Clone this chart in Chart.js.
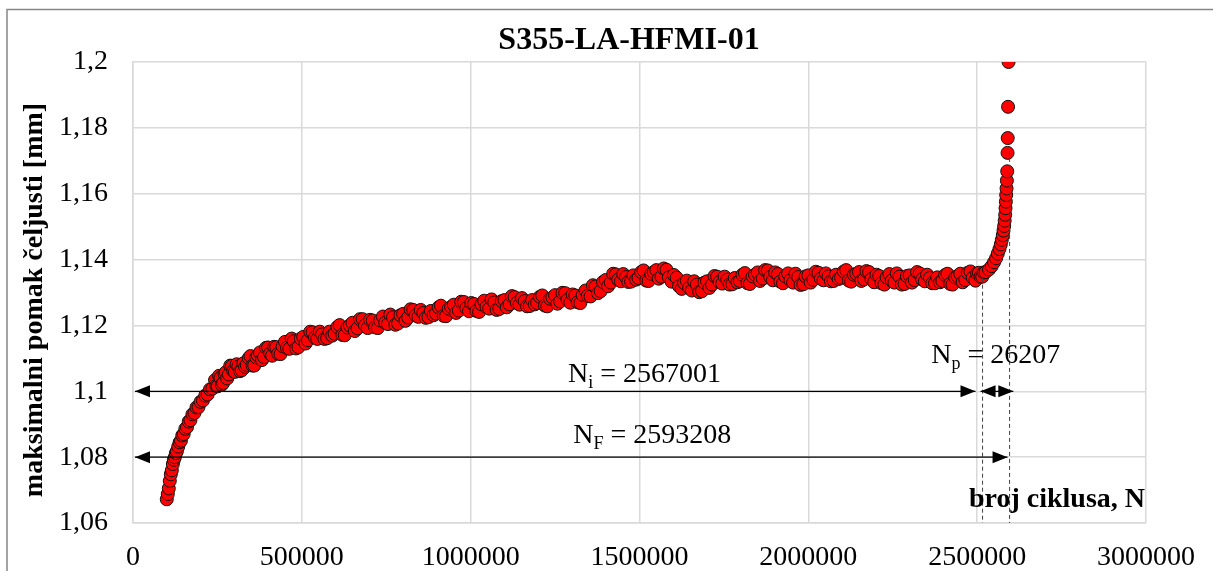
<!DOCTYPE html>
<html>
<head>
<meta charset="utf-8">
<script src="https://cdn.jsdelivr.net/npm/chart.js@4.4.1/dist/chart.umd.min.js"></script>
<style>
  html, body { margin: 0; padding: 0; background: #fff; }
  #wrap { width: 1213px; height: 571px; }
</style>
</head>
<body>
<div id="wrap"><canvas id="chart" width="1213" height="571"></canvas></div>
<script>
// broj ciklusa (u tisucama)
const cyclesK = [
  100,103,106,109,112,115,118,121,124,127,
  130,134,138,142,146,150,155,160,165,170,
  176,182,188,194,200,207,214,221,228,235,
  243,251,259,267,275,284,293,302,312,322,
  332,343,354,365,376,388,400,412,424,437,
  450,463,476,490,504,518,532,546,560,575,
  590,605,620,635,650,665,680,695,710,725,
  740,755,770,785,800,815,830,845,860,875,
  890,905,920,935,950,965,980,995,1010,1025,
  1040,1055,1070,1085,1100,1115,1130,1145,1160,1175,
  1190,1205,1220,1235,1250,1265,1280,1295,1310,1325,
  1340,1355,1370,1385,1400,1415,1430,1445,1460,1475,
  1490,1505,1520,1535,1550,1565,1580,1595,1610,1625,
  1640,1655,1670,1685,1700,1715,1730,1745,1760,1775,
  1790,1805,1820,1835,1850,1865,1880,1895,1910,1925,
  1940,1955,1970,1985,2000,2015,2030,2045,2060,2075,
  2090,2105,2120,2135,2150,2165,2180,2195,2210,2225,
  2240,2255,2270,2285,2300,2315,2330,2345,2360,2375,
  2390,2405,2420,2435,2450,2465,2480,2495,2505,2515,
  2525,2535,2543,2550,2556,2561,2566,2570,2573,2576,
  2578,2580,2581.5,2583,2584,2585,2586,2587,2588,2589,
  2590,2590.5,2591.5,2593
];

// maksimalni pomak celjusti [mm]
const displacement = [
  1.0672,1.0688,1.0705,1.0728,1.0748,1.0760,1.0779,1.0792,1.0800,1.0812,
  1.0818,1.0832,1.0845,1.0850,1.0866,1.0870,1.0886,1.0891,1.0908,1.0912,
  1.0930,1.0934,1.0951,1.0952,1.0968,1.0972,1.0987,1.0990,1.1006,1.1008,
  1.1034,1.1015,1.1041,1.1025,1.1058,1.1051,1.1077,1.1059,1.1075,1.1064,
  1.1074,1.1101,1.1078,1.1103,1.1118,1.1104,1.1133,1.1108,1.1134,1.1113,
  1.1150,1.1129,1.1152,1.1134,1.1165,1.1155,1.1179,1.1159,1.1173,1.1161,
  1.1169,1.1195,1.1171,1.1194,1.1208,1.1191,1.1219,1.1192,1.1215,1.1192,
  1.1227,1.1204,1.1225,1.1206,1.1235,1.1224,1.1247,1.1226,1.1238,1.1225,
  1.1231,1.1255,1.1229,1.1251,1.1263,1.1245,1.1271,1.1243,1.1265,1.1241,
  1.1275,1.1251,1.1270,1.1250,1.1277,1.1264,1.1286,1.1263,1.1274,1.1259,
  1.1264,1.1287,1.1260,1.1281,1.1292,1.1273,1.1298,1.1269,1.1291,1.1268,
  1.1306,1.1288,1.1318,1.1304,1.1338,1.1330,1.1355,1.1334,1.1347,1.1333,
  1.1339,1.1362,1.1336,1.1357,1.1368,1.1348,1.1369,1.1333,1.1345,1.1311,
  1.1336,1.1306,1.1324,1.1304,1.1334,1.1324,1.1348,1.1327,1.1339,1.1325,
  1.1331,1.1354,1.1328,1.1349,1.1361,1.1342,1.1367,1.1337,1.1356,1.1328,
  1.1358,1.1330,1.1347,1.1325,1.1352,1.1339,1.1360,1.1337,1.1349,1.1335,
  1.1341,1.1364,1.1336,1.1354,1.1362,1.1340,1.1362,1.1331,1.1350,1.1324,
  1.1356,1.1330,1.1348,1.1326,1.1352,1.1338,1.1358,1.1334,1.1344,1.1328,
  1.1331,1.1353,1.1326,1.1346,1.1357,1.1338,1.1364,1.1336,1.1360,1.1348,
  1.1362,1.1370,1.1380,1.1392,1.1404,1.1418,1.1432,1.1446,1.1460,1.1474,
  1.1488,1.1502,1.1518,1.1536,1.1556,1.1576,1.1596,1.1616,1.1640,1.1668,
  1.1724,1.1769,1.1864,1.2000
];

// dodatna mjerenja izmedu gornjih (u tisucama ciklusa)
const cyclesK2 = [
  247,255,263,271,279,288,297,307,317,327,
  337,348,359,370,382,394,406,418,430,443,
  456,470,483,497,511,525,539,553,567,582,
  597,612,627,642,657,672,687,702,717,732,
  747,762,777,792,807,822,837,852,867,882,
  897,912,927,942,957,972,987,1002,1017,1032,
  1047,1062,1077,1092,1107,1122,1137,1152,1167,1182,
  1197,1212,1227,1242,1257,1272,1287,1302,1317,1332,
  1347,1362,1377,1392,1407,1422,1437,1452,1467,1482,
  1497,1512,1527,1542,1557,1572,1587,1602,1617,1632,
  1647,1662,1677,1692,1707,1722,1737,1752,1767,1782,
  1797,1812,1827,1842,1857,1872,1887,1902,1917,1932,
  1947,1962,1977,1992,2007,2022,2037,2052,2067,2082,
  2097,2112,2127,2142,2157,2172,2187,2202,2217,2232,
  2247,2262,2277,2292,2307,2322,2337,2352,2367,2382,
  2397,2412,2427,2442,2457,2472,2487,2500,2510,2520
];

const displacement2 = [
  1.1017,1.1047,1.1020,1.1053,1.1039,1.1078,1.1062,1.1082,1.1061,1.1085,
  1.1080,1.1107,1.1078,1.1109,1.1095,1.1132,1.1115,1.1135,1.1114,1.1137,
  1.1132,1.1160,1.1130,1.1160,1.1145,1.1181,1.1163,1.1181,1.1159,1.1181,
  1.1175,1.1201,1.1170,1.1200,1.1183,1.1219,1.1200,1.1217,1.1194,1.1215,
  1.1208,1.1233,1.1202,1.1231,1.1214,1.1249,1.1230,1.1247,1.1223,1.1244,
  1.1236,1.1260,1.1228,1.1256,1.1238,1.1272,1.1252,1.1268,1.1244,1.1264,
  1.1256,1.1279,1.1247,1.1274,1.1255,1.1289,1.1268,1.1283,1.1258,1.1277,
  1.1268,1.1291,1.1258,1.1285,1.1266,1.1299,1.1278,1.1294,1.1270,1.1293,
  1.1290,1.1322,1.1298,1.1332,1.1319,1.1357,1.1339,1.1356,1.1332,1.1352,
  1.1344,1.1367,1.1335,1.1362,1.1342,1.1373,1.1346,1.1353,1.1319,1.1329,
  1.1314,1.1334,1.1301,1.1330,1.1314,1.1350,1.1332,1.1348,1.1324,1.1344,
  1.1335,1.1359,1.1326,1.1354,1.1335,1.1368,1.1347,1.1361,1.1333,1.1349,
  1.1337,1.1357,1.1323,1.1349,1.1330,1.1363,1.1342,1.1358,1.1334,1.1354,
  1.1345,1.1368,1.1333,1.1357,1.1335,1.1365,1.1341,1.1354,1.1328,1.1346,
  1.1336,1.1358,1.1324,1.1350,1.1330,1.1362,1.1340,1.1354,1.1328,1.1346,
  1.1335,1.1357,1.1324,1.1350,1.1331,1.1360,1.1345,1.1358,1.1348,1.1361
];

const xTicks = [0, 500000, 1000000, 1500000, 2000000, 2500000, 3000000];
const yTicks = [1.06, 1.08, 1.1, 1.12, 1.14, 1.16, 1.18, 1.2];

const chartTitle = 'S355-LA-HFMI-01';
const xTitle = 'broj ciklusa, N';
const yTitle = 'maksimalni pomak čeljusti [mm]';

// oznake na grafu (N_i, N_p, N_F)
const labelNi = { main: 'N', sub: 'i', rest: ' = 2567001' };
const labelNp = { main: 'N', sub: 'p', rest: ' = 26207' };
const labelNF = { main: 'N', sub: 'F', rest: ' = 2593208' };

const SERIF = "'Liberation Serif', 'Times New Roman', serif";

const points = cyclesK.map((k, i) => ({ x: k * 1000, y: displacement[i] }))
  .concat(cyclesK2.map((k, i) => ({ x: k * 1000, y: displacement2[i] })))
  .sort((a, b) => a.x - b.x);

function arrowHead(ctx, x, y, dir) {
  ctx.beginPath();
  ctx.moveTo(x, y);
  ctx.lineTo(x - dir * 15, y - 6);
  ctx.lineTo(x - dir * 15, y + 6);
  ctx.closePath();
  ctx.fill();
}

function hArrow(ctx, x1, x2, y, both) {
  ctx.beginPath();
  ctx.moveTo(x1, y);
  ctx.lineTo(x2, y);
  ctx.stroke();
  arrowHead(ctx, x2, y, 1);
  if (both) arrowHead(ctx, x1, y, -1);
}

function subLabel(ctx, lbl, cx, y) {
  const big = '28px ' + SERIF, small = '18px ' + SERIF;
  ctx.font = big;
  const wMain = ctx.measureText(lbl.main).width;
  const wRest = ctx.measureText(lbl.rest).width;
  ctx.font = small;
  const wSub = ctx.measureText(lbl.sub).width;
  let x = cx - (wMain + wSub + wRest) / 2;
  ctx.textAlign = 'left';
  ctx.textBaseline = 'alphabetic';
  ctx.font = big;
  ctx.fillText(lbl.main, x, y);
  x += wMain;
  ctx.font = small;
  ctx.fillText(lbl.sub, x, y + 6);
  x += wSub;
  ctx.font = big;
  ctx.fillText(lbl.rest, x, y);
}

const decorations = {
  id: 'decorations',
  beforeDraw(chart) {
    const ctx = chart.ctx;
    ctx.save();
    ctx.strokeStyle = '#868686';
    ctx.lineWidth = 1.5;
    ctx.beginPath();
    ctx.moveTo(7, chart.height);
    ctx.lineTo(7, 9.5);
    ctx.lineTo(chart.width, 9.5);
    ctx.stroke();
    ctx.restore();
  },
  afterDatasetsDraw(chart) {
    const ctx = chart.ctx;
    const xs = chart.scales.x, ys = chart.scales.y;
    const px = v => xs.getPixelForValue(v);
    const py = v => ys.getPixelForValue(v);
    ctx.save();

    // isprekidane okomite linije
    ctx.strokeStyle = '#404040';
    ctx.lineWidth = 1;
    ctx.setLineDash([4, 3]);
    ctx.beginPath();
    ctx.moveTo(px(2516000), py(1.1345));
    ctx.lineTo(px(2516000), py(1.06));
    ctx.moveTo(px(2596000), py(1.173));
    ctx.lineTo(px(2596000), py(1.06));
    ctx.stroke();
    ctx.setLineDash([]);

    // strelice
    ctx.strokeStyle = '#000';
    ctx.fillStyle = '#000';
    ctx.lineWidth = 1.3;
    hArrow(ctx, px(6000), px(2495000), py(1.1), true);
    hArrow(ctx, px(2510000), px(2607000), py(1.1), true);
    hArrow(ctx, px(6000), px(2590000), py(1.08), true);

    // natpisi
    ctx.fillStyle = '#000';
    subLabel(ctx, labelNi, px(1515000), py(1.1028));
    subLabel(ctx, labelNF, px(1538000), py(1.0843));
    subLabel(ctx, labelNp, px(2555000), py(1.1086));

    ctx.font = 'bold 28px ' + SERIF;
    ctx.textAlign = 'right';
    ctx.textBaseline = 'alphabetic';
    ctx.fillText(xTitle, 1145, 507);
    ctx.restore();
  },
  afterDraw(chart) {
    const ctx = chart.ctx;
    ctx.save();
    ctx.fillStyle = '#000';
    ctx.font = 'bold 32px ' + SERIF;
    ctx.textAlign = 'center';
    ctx.textBaseline = 'alphabetic';
    ctx.fillText(chartTitle, 629, 49);

    ctx.translate(42, 300);
    ctx.rotate(-Math.PI / 2);
    ctx.font = 'bold 28px ' + SERIF;
    ctx.fillText(yTitle, 0, 0);
    ctx.restore();
  }
};

new Chart(document.getElementById('chart'), {
  type: 'scatter',
  data: {
    datasets: [{
      label: 'pomak',
      data: points,
      backgroundColor: '#ff0000',
      borderColor: '#111111',
      pointRadius: 6.5,
      pointBorderWidth: 1,
      pointHoverRadius: 6.5
    }]
  },
  options: {
    responsive: false,
    animation: false,
    events: [],
    layout: { padding: { left: 0, top: 62, right: 64, bottom: 0 } },
    plugins: {
      legend: { display: false },
      title: { display: false },
      tooltip: { enabled: false }
    },
    scales: {
      x: {
        type: 'linear',
        min: 0,
        max: 3000000,
        afterBuildTicks: s => { s.ticks = xTicks.map(v => ({ value: v })); },
        afterFit: s => { s.height = 48; },
        grid: { color: '#d9d9d9', lineWidth: 1.5, drawTicks: false },
        border: { color: '#d9d9d9', width: 1.5 },
        ticks: {
          padding: 18,
          maxRotation: 0,
          autoSkip: false,
          color: '#000',
          font: { family: SERIF, size: 28 },
          callback: v => String(v)
        }
      },
      y: {
        type: 'linear',
        min: 1.06,
        max: 1.2,
        afterBuildTicks: s => { s.ticks = yTicks.map(v => ({ value: v })); },
        afterFit: s => { s.width = 133; },
        grid: { color: '#d9d9d9', lineWidth: 1.5, drawTicks: false },
        border: { color: '#d9d9d9', width: 1.5 },
        ticks: {
          padding: 25,
          autoSkip: false,
          color: '#000',
          font: { family: SERIF, size: 28 },
          callback: v => String(Number(v.toFixed(2))).replace('.', ',')
        }
      }
    }
  },
  plugins: [decorations]
});
</script>
</body>
</html>
